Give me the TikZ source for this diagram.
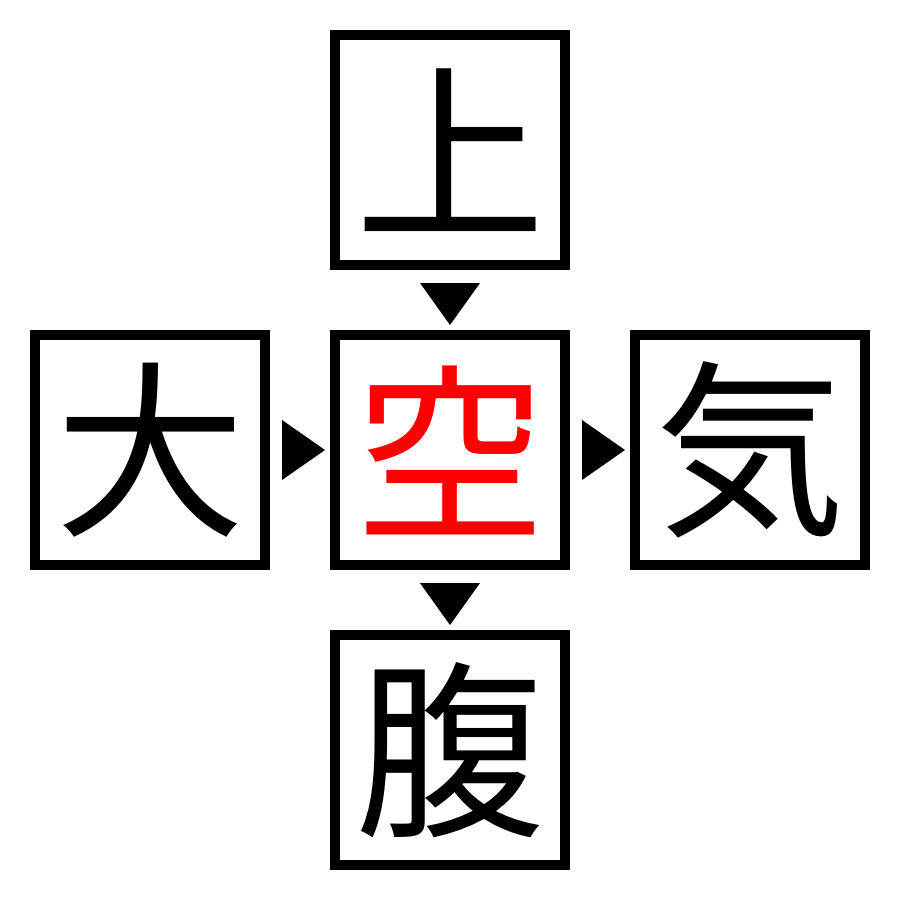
\documentclass[tikz,border=0pt]{standalone}
\usepackage{fontspec}
\newfontfamily\cjk{Noto Sans CJK JP}
\begin{document}
\begin{tikzpicture}[x=1pt,y=-1pt,
  kbox/.style={draw=black,line width=10pt,minimum size=230pt,inner sep=0pt,font=\cjk\fontsize{190}{190}\selectfont},
  tri/.style={fill=black,draw=none}]
\useasboundingbox (0,0) rectangle (900,900);
\node[kbox] (top) at (450,150) {上};
\node[kbox] (left) at (150,450) {大};
\node[kbox,text=red] (mid) at (450,450) {空};
\node[kbox] (right) at (750,450) {気};
\node[kbox] (bot) at (450,750) {腹};
\fill[tri] (420,283) -- (480,283) -- (450,325) -- cycle;
\fill[tri] (282,420) -- (282,480) -- (325,450) -- cycle;
\fill[tri] (582,420) -- (582,480) -- (625,450) -- cycle;
\fill[tri] (420,583) -- (480,583) -- (450,625) -- cycle;
\end{tikzpicture}
\end{document}
